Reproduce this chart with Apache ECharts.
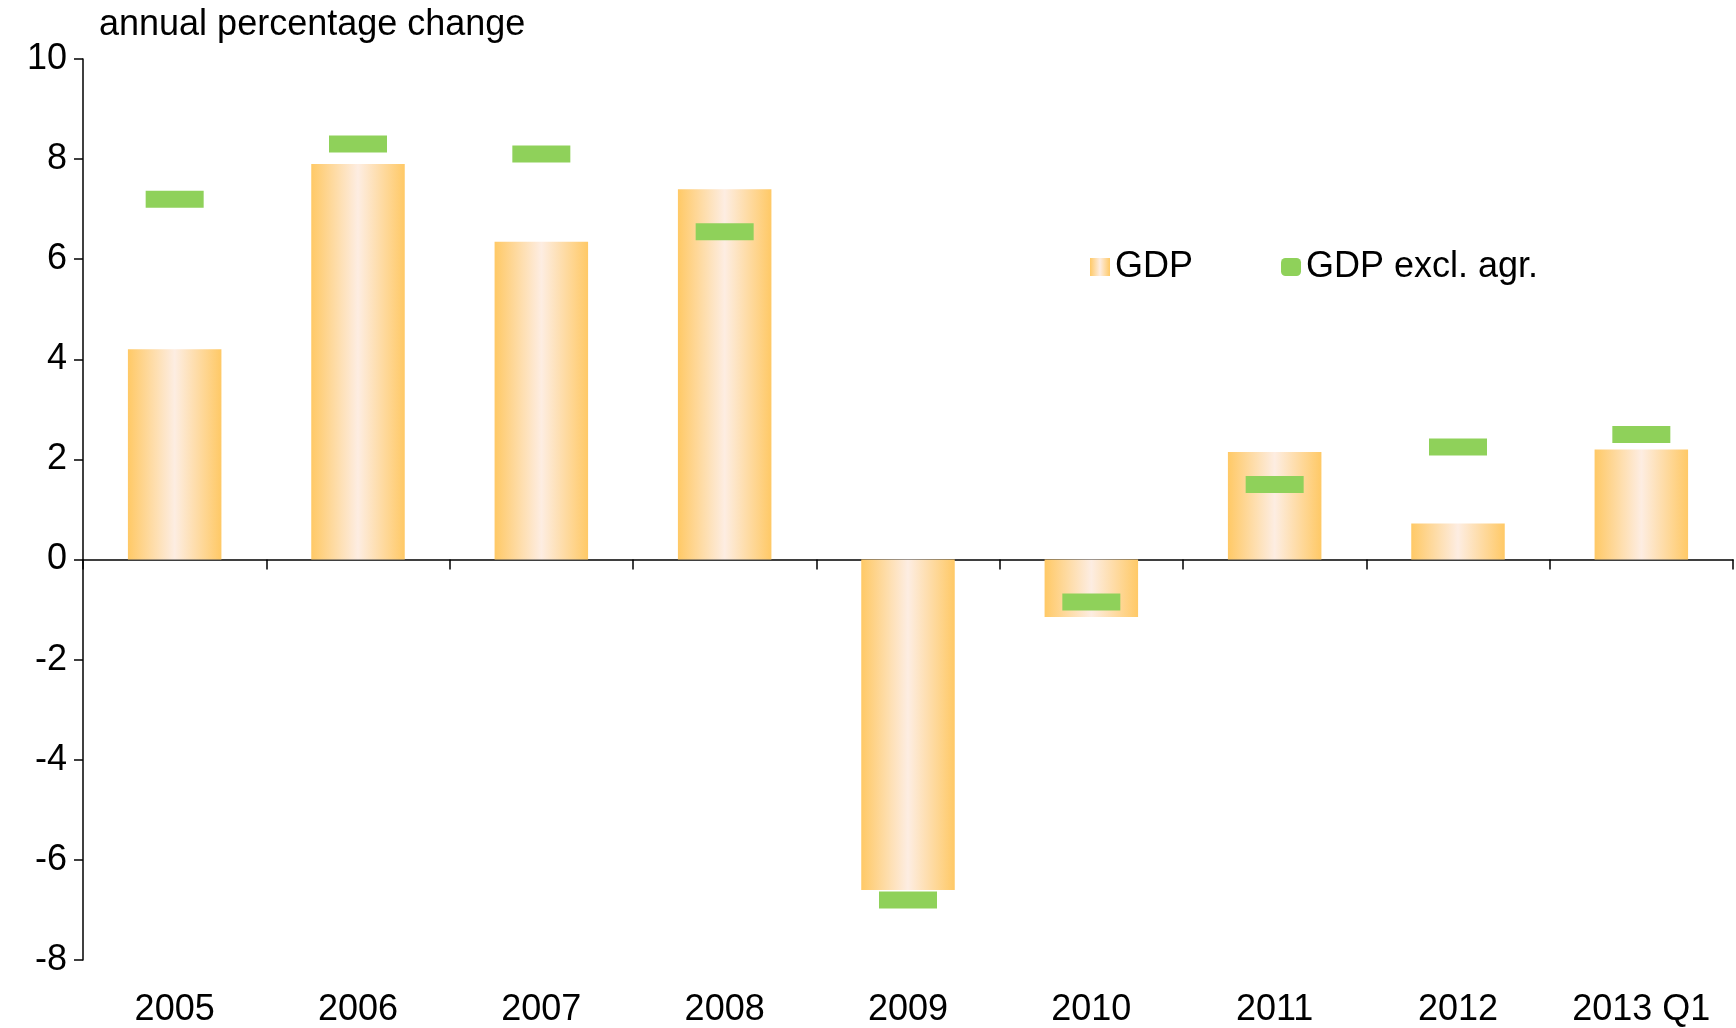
<!DOCTYPE html>
<html>
<head>
<meta charset="utf-8">
<script src="https://cdn.jsdelivr.net/npm/echarts@6/dist/echarts.min.js"></script>
</head>
<body style="margin:0">
<div id="main" style="width:1736px;height:1028px;"></div>
<script>
var categories = ['2005','2006','2007','2008','2009','2010','2011','2012','2013 Q1'];
var gdp = [4.2, 7.9, 6.35, 7.4, -6.6, -1.15, 2.15, 0.72, 2.2];
var gdpExclAgr = [7.2, 8.3, 8.1, 6.55, -6.8, -0.85, 1.5, 2.25, 2.5];

var chart = echarts.init(document.getElementById('main'));
var font = 'Liberation Sans, Arial, sans-serif';
var barColor = new echarts.graphic.LinearGradient(0, 0, 1, 0, [
  {offset: 0, color: '#FFC966'},
  {offset: 0.5, color: '#FDEDE2'},
  {offset: 1, color: '#FFC966'}
]);
chart.setOption({
  animation: false,
  textStyle: {fontFamily: font},
  grid: {left: 83, right: 3, top: 59, bottom: 66},
  legend: {
    left: 1085, top: 244, itemGap: 88, itemWidth: 20, itemHeight: 18,
    textStyle: {fontSize: 36, color: '#000', fontFamily: font},
    data: [{name: 'GDP', icon: 'rect', itemStyle: {color: barColor}},
           {name: 'GDP excl. agr.', icon: 'roundRect', itemStyle: {color: '#8FD15A'}}]
  },
  title: {text: 'annual percentage change', left: 94, top: 2,
    textStyle: {fontSize: 36, fontWeight: 'normal', color: '#000', fontFamily: font}},
  xAxis: [{
    type: 'category', data: categories, position: 'bottom',
    axisLine: {onZero: true, lineStyle: {color: '#000', width: 1.5}},
    axisTick: {show: true, length: 10, lineStyle: {color: '#000', width: 1.5}},
    axisLabel: {show: false}
  }, {
    type: 'category', data: categories, position: 'bottom',
    axisLine: {show: false}, axisTick: {show: false},
    axisLabel: {fontSize: 36, color: '#000', margin: 32}
  }],
  yAxis: {
    type: 'value', min: -8, max: 10, interval: 2,
    splitLine: {show: false},
    axisLine: {show: true, lineStyle: {color: '#000', width: 1.5}},
    axisTick: {show: true, length: 9, lineStyle: {color: '#000', width: 1.5}},
    axisLabel: {fontSize: 36, color: '#000', margin: 16}
  },
  series: [{
    name: 'GDP', type: 'bar', data: gdp, barWidth: '51%',
    itemStyle: {color: barColor}
  }, {
    name: 'GDP excl. agr.', type: 'scatter', data: gdpExclAgr,
    symbol: 'rect', symbolSize: [58, 17],
    itemStyle: {color: '#8FD15A', opacity: 1, borderRadius: 4}, z: 5
  }]
});
</script>
</body>
</html>
